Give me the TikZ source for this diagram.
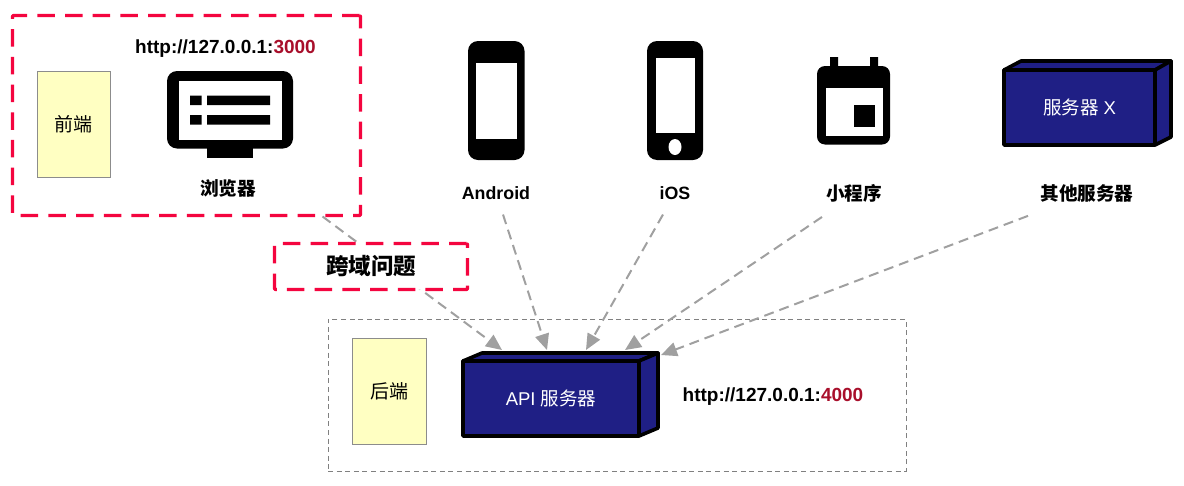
\documentclass[tikz,border=0pt]{standalone}
\usepackage{fontspec}
\setmainfont{Liberation Sans}
\newfontfamily\cjk{Noto Sans CJK SC}
\usetikzlibrary{arrows.meta,calc}
\definecolor{redline}{HTML}{F4053F}
\definecolor{redtext}{HTML}{A80F2B}
\definecolor{note}{HTML}{FFFFC2}
\definecolor{noteedge}{HTML}{8C8C8C}
\definecolor{navy}{HTML}{1F1F85}
\definecolor{linkgrey}{HTML}{A0A0A0}
\tikzset{
  x=1pt,y=-1pt,
  every node/.style={inner sep=0pt,outer sep=0pt},
  redbox/.style={draw=redline,line width=3.4pt,dash pattern=on 17.5pt off 10.2pt,line join=round,rounded corners=1pt,anchor=north west},
  notebox/.style={draw=noteedge,fill=note,line width=1pt,anchor=north west,font=\cjk\fontsize{19}{22}\selectfont,text=black},
  groupbox/.style={draw=gray,line width=1pt,dash pattern=on 5pt off 3.6pt,anchor=north west},
  label/.style={font=\fontsize{19}{22}\selectfont\bfseries,text=black},
  shortlabel/.style={font=\fontsize{17.8}{22}\selectfont\bfseries,text=black},
  cjklabel/.style={font=\cjk\fontsize{18.6}{22}\selectfont\bfseries,text=black},
  serverfront/.style={draw=black,fill=navy,line width=3.6pt,line join=round,anchor=north west,text=white,font=\fontsize{18.5}{22}\selectfont},
  serverface/.style={draw=black,fill=navy,line width=3.6pt,line join=round},
  link/.style={draw=linkgrey,line width=2pt,dash pattern=on 10pt off 6pt,-{Triangle[length=16pt,width=14pt,fill=linkgrey]}},
}
\begin{document}
\begin{tikzpicture}
\useasboundingbox (0,0) rectangle (1184,485);
% frontend group
\node[redbox,minimum width=348pt,minimum height=200pt] (frontgroup) at (12.5,15.5) {};
\node[notebox,minimum width=73pt,minimum height=106pt] (frontend) at (37,71) {前端};
\node[anchor=center,label] (fronturl) at (225.5,49) {http://127.0.0.1:\textcolor{redtext}{3000}};
% browser icon
\fill[black,rounded corners=10pt] (167,71) rectangle (293,148.5);
\fill[black] (207,146) rectangle (253,158);
\fill[white] (178.5,81) rectangle (282,139.5);
\fill[black] (190,95.5) rectangle (201.5,105) (207,95.5) rectangle (270,105);
\fill[black] (190,115) rectangle (201.5,124.5) (207,115) rectangle (270,124.5);
\node[anchor=center,cjklabel] (browser) at (228,188) {浏览器};
% android
\fill[black,rounded corners=10pt] (468,41) rectangle (524.5,160);
\fill[white] (476,63) rectangle (516.5,138.5);
\node[anchor=center,shortlabel] (android) at (496,193) {Android};
% ios
\fill[black,rounded corners=10pt] (647,41) rectangle (703,160);
\fill[white] (655.5,57.5) rectangle (695,133);
\fill[white] (675,147) ellipse [x radius=6.5,y radius=8];
\node[anchor=center,shortlabel] (ios) at (675,193) {iOS};
% mini program
\fill[black] (830,57) rectangle (838,70) (870,57) rectangle (878,70);
\fill[black,rounded corners=8pt] (817,66) rectangle (890,144.5);
\fill[white] (825.5,87.5) rectangle (882.5,136);
\fill[black] (854,105) rectangle (875,127);
\node[anchor=center,cjklabel] (mini) at (854,193) {小程序};
% server X
\node[serverfront,minimum width=151pt,minimum height=75pt] (serverx) at (1004,70) {{\cjk 服务器} X};
\path[serverface] (serverx.north west) -- ++(17,-9) -- ++(150,0) -- ($(serverx.north east)$) -- cycle;
\path[serverface] (serverx.north east) -- ++(16,-9) -- ++(0,76) -- (serverx.south east) -- cycle;
\node[anchor=center,cjklabel] (other) at (1087,193) {其他服务器};
% backend group
\node[groupbox,minimum width=578pt,minimum height=152pt] (backgroup) at (328,319) {};
\node[notebox,minimum width=74pt,minimum height=106pt] (backend) at (352,338) {后端};
\node[serverfront,minimum width=176pt,minimum height=75pt] (api) at (463,361) {API {\cjk 服务器}};
\path[serverface] (api.north west) -- ++(19,-8) -- ++(176,0) -- (api.north east) -- cycle;
\path[serverface] (api.north east) -- ++(19,-8) -- ++(0,75) -- (api.south east) -- cycle;
\node[anchor=center,label] (backurl) at (773,397) {http://127.0.0.1:\textcolor{redtext}{4000}};
% connectors
\draw[link] ($(frontgroup.south)+(136,1)$) -- ($(api.north)+(-49,-11)$);
\draw[link] ($(android.south)+(7,15)$) -- ($(api.north)+(-4,-11)$);
\draw[link] ($(ios.south)+(-12,15)$) -- ($(api.north)+(35,-11)$);
\draw[link] ($(mini.south)+(-32,15)$) -- ($(api.north)+(74,-11)$);
\draw[link] ($(other.south)+(-59,14)$) -- ($(api.north east)+(22,-6)$);
% issue label over the first connector
\node[redbox,fill=white,minimum width=193pt,minimum height=46pt,font=\cjk\fontsize{22.5}{26}\selectfont\bfseries] (issue) at (274.5,243.5) {跨域问题};
\end{tikzpicture}
\end{document}
